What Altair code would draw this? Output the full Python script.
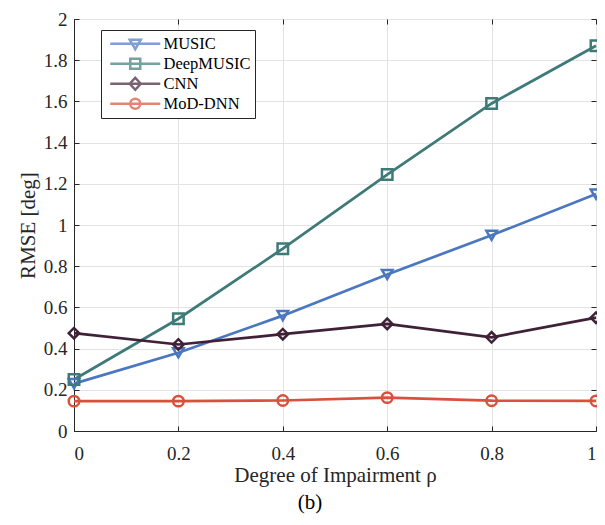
import altair as alt
import pandas as pd

rho = [0, 0.2, 0.4, 0.6, 0.8, 1.0]
music = [0.23, 0.38, 0.56, 0.76, 0.95, 1.15]
deepmusic = [0.25, 0.545, 0.885, 1.245, 1.59, 1.87]
cnn = [0.475, 0.42, 0.47, 0.52, 0.455, 0.55]
moddnn = [0.145, 0.145, 0.148, 0.162, 0.147, 0.146]
y_ticks = [0, 0.2, 0.4, 0.6, 0.8, 1, 1.2, 1.4, 1.6, 1.8, 2]

series_names = ["MUSIC", "DeepMUSIC", "CNN", "MoD-DNN"]
colors = ["#4a77bf", "#3d7a78", "#3f2138", "#d9503c"]
shapes = ["triangle-down", "square", "diamond", "circle"]
legend_paths = [
    "M-5,0L5,0M-1.1,-0.8L1.1,-0.8L0,1.1Z",
    "M-5,0L5,0M-1,-1L1,-1L1,1L-1,1Z",
    "M-5,0L5,0M0,-1.2L1.1,0L0,1.2L-1.1,0Z",
    "M-5,0L5,0M1,0A1,1,0,1,1,-1,0A1,1,0,1,1,1,0Z",
]

rows = []
for name, vals in zip(series_names, [music, deepmusic, cnn, moddnn]):
    for x, y in zip(rho, vals):
        rows.append({"series": name, "rho": x, "rmse": y})
df = pd.DataFrame(rows)

FONT = "Liberation Serif"
W, H = 522, 412
xs = alt.Scale(domain=[0, 1], nice=False)
ys = alt.Scale(domain=[0, 2], nice=False)


def tick_axis(orient, offset, values):
    return alt.Axis(orient=orient, offset=offset, values=values, labels=False,
                    domain=False, grid=False, ticks=True, tickSize=5,
                    tickColor="#262626", tickWidth=1, title=None)


x_main = alt.X("rho:Q", scale=xs,
               axis=alt.Axis(values=rho, format="~g", title="Degree of Impairment ρ",
                             labelFont=FONT, titleFont=FONT, labelFontSize=19, titleFontSize=21,
                             labelPadding=13, titlePadding=1, ticks=False))
y_main = alt.Y("rmse:Q", scale=ys,
               axis=alt.Axis(values=y_ticks, format="~g", title="RMSE [deg]",
                             labelFont=FONT, titleFont=FONT, labelFontSize=19, titleFontSize=21,
                             labelPadding=7, titlePadding=5, ticks=False))

base = alt.Chart(df)
cscale = alt.Scale(domain=series_names, range=colors)

lines = base.mark_line(strokeWidth=2.7).encode(
    x=x_main, y=y_main,
    color=alt.Color("series:N", scale=cscale, legend=None),
    detail="series:N",
)
points = base.mark_point(filled=False, strokeWidth=2.5, size=110, opacity=1).encode(
    x=alt.X("rho:Q", scale=xs, axis=tick_axis("top", -H, rho)),
    y=alt.Y("rmse:Q", scale=ys, axis=tick_axis("right", -W, y_ticks)),
    color=alt.Color("series:N", scale=cscale, legend=None),
    shape=alt.Shape("series:N", scale=alt.Scale(domain=series_names, range=shapes), legend=None),
)
leg = alt.Legend(
    title=None, orient="none", legendX=27, legendY=11,
    labelFont=FONT, labelFontSize=16.5, labelColor="#000000",
    symbolSize=100, symbolStrokeWidth=2.5, symbolFillColor="transparent",
    symbolOffset=22, labelOffset=20, rowPadding=0, clipHeight=19.5,
    strokeColor="#262626", fillColor="#ffffff", padding=4,
)
legend_layer = base.mark_point(filled=False, strokeWidth=2.5, size=100).encode(
    x=alt.X("rho:Q", scale=xs, axis=tick_axis("bottom", -H, rho)),
    y=alt.Y("rmse:Q", scale=ys, axis=tick_axis("left", -W, y_ticks)),
    color=alt.Color("series:N", scale=cscale, legend=leg),
    shape=alt.Shape("series:N", scale=alt.Scale(domain=series_names, range=legend_paths), legend=leg),
).transform_filter(alt.datum.rmse < -100)

chart = alt.layer(lines, points, legend_layer).resolve_scale(
    shape="independent", color="independent"
).resolve_axis(
    x="independent", y="independent"
).properties(
    width=W, height=H,
    autosize=alt.AutoSizeParams(type="none"),
    padding={"left": 66, "top": 11, "right": 1, "bottom": 86},
    background="white",
    title=alt.Title("(b)", orient="bottom", anchor="middle", font=FONT, fontSize=21,
                    fontWeight="normal", color="#000000", offset=7, dx=-25),
).configure_view(
    stroke="#262626", strokeWidth=1
).configure_axis(
    labelFont=FONT, titleFont=FONT, labelFontSize=19, titleFontSize=21,
    titleFontWeight="normal", labelColor="#262626", titleColor="#262626",
    gridColor="#e3e3e3", domainColor="#262626",
)

chart.save("out.html", embed_options={"renderer": "svg", "actions": False})
